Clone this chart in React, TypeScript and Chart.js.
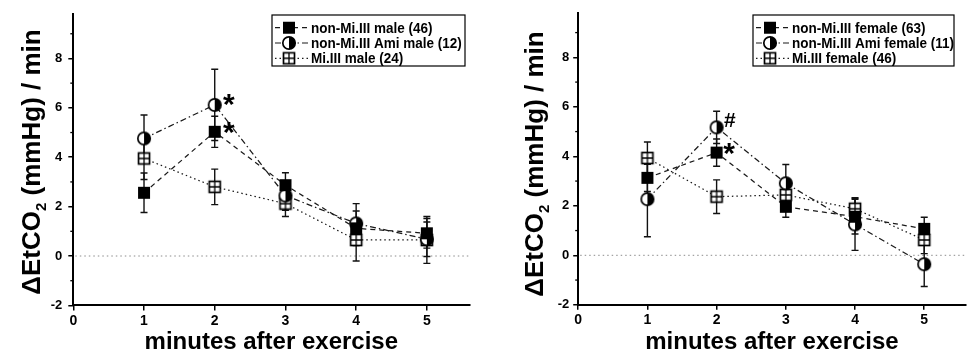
import { useEffect, useRef } from 'react';
import { Chart, registerables } from 'chart.js';

Chart.register(...registerables);

const FONT = '"Liberation Sans", Arial, Helvetica, sans-serif';

// ---------- data ----------
const minutes = [1, 2, 3, 4, 5];
const xTickValues = [0, 1, 2, 3, 4, 5];
const yTickValues = [-2, 0, 2, 4, 6, 8];
const yMinorValues = [-1, 1, 3, 5, 7, 9];

const xTitle = 'minutes after exercise';
const yTitleMain = 'ΔEtCO';
const yTitleSub = '2';
const yTitleRest = ' (mmHg) / min';

// male panel
const maleLabels = ['non-Mi.III male (46)', 'non-Mi.III Ami male (12)', 'Mi.III male (24)'];
const maleNonMi = [2.56, 5.03, 2.87, 1.12, 0.92];
const maleNonMiErr = [0.8, 0.63, 0.5, 0.7, 0.6];
const maleAmi = [4.76, 6.12, 2.45, 1.32, 0.68];
const maleAmiErr = [0.95, 1.44, 0.6, 0.8, 0.7];
const maleMi = [3.95, 2.8, 2.12, 0.65, 0.65];
const maleMiErr = [0.85, 0.72, 0.52, 0.85, 0.95];
const maleMarkText = ['*', '*'];
const maleMarkX = [2.2, 2.2];
const maleMarkY = [6.44, 5.3];

// female panel
const femaleLabels = ['non-Mi.III female (63)', 'non-Mi.III Ami female (11)', 'Mi.III female (46)'];
const femaleNonMi = [3.13, 4.15, 1.96, 1.56, 1.07];
const femaleNonMiErr = [0.55, 0.55, 0.42, 0.7, 0.47];
const femaleAmi = [2.27, 5.17, 2.91, 1.25, -0.36];
const femaleAmiErr = [1.52, 0.65, 0.76, 1.05, 0.9];
const femaleMi = [3.93, 2.37, 2.44, 1.88, 0.62];
const femaleMiErr = [0.65, 0.68, 0.5, 0.45, 0.55];
const femaleMarkText = ['#', '*'];
const femaleMarkX = [2.19, 2.18];
const femaleMarkY = [5.5, 4.43];

// ---------- styles ----------
type Kind = 'filled' | 'half' | 'cross';
const kinds: Kind[] = ['filled', 'half', 'cross'];
const dashes = [[5, 4], [6, 3, 1.5, 3], [1.5, 3]];

type PanelCfg = {
  width: number;
  axisLeft: number;
  padTop: number;
  padRight: number;
  plotBottom: number;
  tickPad: number;
  yTitleBaseX: number;
  yTitleCenterY: number;
  xTitleBaseY: number;
  legend: { x: number; y: number; w: number; h: number };
  labels: string[];
  values: number[][];
  errors: number[][];
  markText: string[];
  markX: number[];
  markY: number[];
};

const malePanel: PanelCfg = {
  width: 486,
  axisLeft: 73.3,
  padTop: 14,
  padRight: 16.7,
  plotBottom: 305.4,
  tickPad: 6,
  yTitleBaseX: 40,
  yTitleCenterY: 162,
  xTitleBaseY: 348.5,
  legend: { x: 272, y: 15, w: 193, h: 51 },
  labels: maleLabels,
  values: [maleNonMi, maleAmi, maleMi],
  errors: [maleNonMiErr, maleAmiErr, maleMiErr],
  markText: maleMarkText,
  markX: maleMarkX,
  markY: maleMarkY,
};

const femalePanel: PanelCfg = {
  width: 487,
  axisLeft: 92.2,
  padTop: 12.8,
  padRight: 0,
  plotBottom: 304.8,
  tickPad: 4,
  yTitleBaseX: 57,
  yTitleCenterY: 164,
  xTitleBaseY: 349,
  legend: { x: 267, y: 15, w: 201, h: 51 },
  labels: femaleLabels,
  values: [femaleNonMi, femaleAmi, femaleMi],
  errors: [femaleNonMiErr, femaleAmiErr, femaleMiErr],
  markText: femaleMarkText,
  markX: femaleMarkX,
  markY: femaleMarkY,
};

function makeMarker(kind: Kind): HTMLCanvasElement {
  const s = 16;
  const c = document.createElement('canvas');
  c.width = s;
  c.height = s;
  const g = c.getContext('2d') as CanvasRenderingContext2D;
  const m = s / 2;
  if (kind === 'filled') {
    g.fillStyle = '#000';
    g.fillRect(m - 6, m - 6, 12, 12);
  } else if (kind === 'half') {
    const r = 6.2;
    g.beginPath();
    g.arc(m, m, r, 0, Math.PI * 2);
    g.fillStyle = '#fff';
    g.fill();
    g.beginPath();
    g.arc(m, m, r, -Math.PI / 2, Math.PI / 2);
    g.closePath();
    g.fillStyle = '#000';
    g.fill();
    g.beginPath();
    g.arc(m, m, r, 0, Math.PI * 2);
    g.lineWidth = 1.7;
    g.strokeStyle = '#000';
    g.stroke();
  } else {
    g.fillStyle = '#fff';
    g.fillRect(m - 5.5, m - 5.5, 11, 11);
    g.strokeStyle = '#000';
    g.lineWidth = 1.7;
    g.strokeRect(m - 5.5, m - 5.5, 11, 11);
    g.beginPath();
    g.moveTo(m, m - 5.5);
    g.lineTo(m, m + 5.5);
    g.moveTo(m - 5.5, m);
    g.lineTo(m + 5.5, m);
    g.lineWidth = 1.3;
    g.stroke();
  }
  return c;
}

function decor(p: PanelCfg, markers: Record<Kind, HTMLCanvasElement>) {
  return {
    id: 'decor',
    beforeDatasetsDraw(chart: any) {
      const { ctx, chartArea: a } = chart;
      const xs = chart.scales.x;
      const ys = chart.scales.y;
      ctx.save();
      const y0 = ys.getPixelForValue(0);
      ctx.strokeStyle = '#8c8c8c';
      ctx.lineWidth = 1;
      ctx.setLineDash([1.5, 3]);
      ctx.beginPath();
      ctx.moveTo(a.left + 2, y0);
      ctx.lineTo(a.right, y0);
      ctx.stroke();
      ctx.setLineDash([]);
      ctx.strokeStyle = '#111';
      ctx.lineWidth = 1.4;
      chart.data.datasets.forEach((ds: any) => {
        ds.data.forEach((pt: any, i: number) => {
          const e = ds.err[i];
          const px = xs.getPixelForValue(pt.x);
          const top = ys.getPixelForValue(pt.y + e);
          const bot = ys.getPixelForValue(pt.y - e);
          ctx.beginPath();
          ctx.moveTo(px, top);
          ctx.lineTo(px, bot);
          ctx.moveTo(px - 3.5, top);
          ctx.lineTo(px + 3.5, top);
          ctx.moveTo(px - 3.5, bot);
          ctx.lineTo(px + 3.5, bot);
          ctx.stroke();
        });
      });
      ctx.restore();
    },
    afterDraw(chart: any) {
      const { ctx, chartArea: a } = chart;
      const xs = chart.scales.x;
      const ys = chart.scales.y;
      ctx.save();
      // minor y ticks
      ctx.strokeStyle = '#000';
      ctx.lineWidth = 1.3;
      yMinorValues.forEach((v) => {
        const py = ys.getPixelForValue(v);
        ctx.beginPath();
        ctx.moveTo(a.left - 3, py);
        ctx.lineTo(a.left, py);
        ctx.stroke();
      });

      // y title
      ctx.fillStyle = '#000';
      ctx.save();
      ctx.translate(p.yTitleBaseX, p.yTitleCenterY);
      ctx.rotate(-Math.PI / 2);
      ctx.textBaseline = 'alphabetic';
      ctx.textAlign = 'left';
      const big = `bold 26px ${FONT}`;
      const small = `bold 15px ${FONT}`;
      const parts: [string, string, number][] = [
        [yTitleMain, big, 0],
        [yTitleSub, small, 6],
        [yTitleRest, big, 0],
      ];
      let total = 0;
      const widths = parts.map(([t, f]) => {
        ctx.font = f;
        const w = ctx.measureText(t).width;
        total += w;
        return w;
      });
      let u = -total / 2;
      parts.forEach(([t, f, shift], i) => {
        ctx.font = f;
        ctx.fillText(t, u, shift);
        u += widths[i];
      });
      ctx.restore();

      // x title
      ctx.font = `bold 24px ${FONT}`;
      ctx.textAlign = 'center';
      ctx.textBaseline = 'alphabetic';
      ctx.fillText(xTitle, (a.left + a.right) / 2, p.xTitleBaseY);

      // significance marks
      p.markText.forEach((t, i) => {
        const px = xs.getPixelForValue(p.markX[i]);
        const py = ys.getPixelForValue(p.markY[i]);
        if (t === '*') {
          ctx.font = `bold 30px ${FONT}`;
          ctx.fillText(t, px, py + 0.57 * 30);
        } else {
          ctx.font = `bold 21px ${FONT}`;
          ctx.fillText(t, px, py + 0.36 * 21);
        }
      });

      // legend
      const L = p.legend;
      ctx.fillStyle = '#fff';
      ctx.fillRect(L.x, L.y, L.w, L.h);
      ctx.strokeStyle = '#000';
      ctx.lineWidth = 1.2;
      ctx.strokeRect(L.x, L.y, L.w, L.h);
      const rowY = [L.y + 12.7, L.y + 28, L.y + 43.3];
      chart.data.datasets.forEach((ds: any, i: number) => {
        const ry = rowY[i];
        ctx.strokeStyle = '#1a1a1a';
        ctx.lineWidth = 1.2;
        ctx.setLineDash(dashes[i]);
        ctx.beginPath();
        ctx.moveTo(L.x + 3, ry);
        ctx.lineTo(L.x + 36, ry);
        ctx.stroke();
        ctx.setLineDash([]);
        const mk = markers[kinds[i]];
        ctx.drawImage(mk, L.x + 17 - mk.width / 2, ry - mk.height / 2);
        ctx.save();
        ctx.translate(L.x + 39, ry);
        ctx.scale(0.9, 1);
        ctx.fillStyle = '#000';
        ctx.font = `bold 15px ${FONT}`;
        ctx.textAlign = 'left';
        ctx.textBaseline = 'middle';
        ctx.fillText(ds.label, 0, 1);
        ctx.restore();
      });
      ctx.restore();
    },
  };
}

function Panel({ panel }: { panel: PanelCfg }) {
  const ref = useRef<HTMLCanvasElement>(null);
  useEffect(() => {
    const canvas = ref.current as HTMLCanvasElement;
    const markers: Record<Kind, HTMLCanvasElement> = {
      filled: makeMarker('filled'),
      half: makeMarker('half'),
      cross: makeMarker('cross'),
    };
    const datasets = panel.labels.map((label, k) => ({
      label,
      data: minutes.map((m, i) => ({ x: m, y: panel.values[k][i] })),
      err: panel.errors[k],
      borderColor: '#1a1a1a',
      borderWidth: 1.25,
      borderDash: dashes[k],
      pointStyle: markers[kinds[k]],
      pointRadius: 6,
      pointHoverRadius: 6,
      fill: false,
      tension: 0,
      clip: false,
    }));
    const tickFontY = { family: FONT, size: 13, weight: 'bold' as const };
    const tickFontX = { family: FONT, size: 14, weight: 'bold' as const };
    const chart = new Chart(canvas, {
      type: 'line',
      data: { datasets } as any,
      options: {
        responsive: false,
        animation: false,
        events: [],
        layout: { padding: { left: 0, top: panel.padTop, right: panel.padRight, bottom: 0 } },
        plugins: { legend: { display: false }, tooltip: { enabled: false } },
        scales: {
          x: {
            type: 'linear',
            min: 0,
            max: 5.6,
            afterBuildTicks: (s: any) => {
              s.ticks = xTickValues.map((v) => ({ value: v }));
            },
            afterFit: (s: any) => {
              s.height = 352 - panel.plotBottom;
            },
            grid: { display: true, drawOnChartArea: false, drawTicks: true, tickLength: 5, color: '#000', lineWidth: 1.5 },
            border: { display: true, color: '#000', width: 2 },
            ticks: { font: tickFontX, color: '#000', padding: 2, maxRotation: 0, autoSkip: false },
          },
          y: {
            type: 'linear',
            min: -2,
            max: 9.8,
            afterBuildTicks: (s: any) => {
              s.ticks = yTickValues.map((v) => ({ value: v }));
            },
            afterFit: (s: any) => {
              s.width = panel.axisLeft;
            },
            grid: { display: true, drawOnChartArea: false, drawTicks: true, tickLength: 5, color: '#000', lineWidth: 1.5 },
            border: { display: true, color: '#000', width: 2 },
            ticks: { font: tickFontY, color: '#000', padding: panel.tickPad, autoSkip: false },
          },
        },
      } as any,
      plugins: [decor(panel, markers)],
    });
    return () => chart.destroy();
  }, [panel]);
  return (
    <canvas
      ref={ref}
      width={panel.width}
      height={352}
      style={{ display: 'block', width: panel.width, height: 352 }}
    />
  );
}

export default function App() {
  return (
    <div
      style={{
        position: 'fixed',
        left: 0,
        top: 0,
        width: 973,
        height: 352,
        display: 'flex',
        background: '#fff',
      }}
    >
      <Panel panel={malePanel} />
      <Panel panel={femalePanel} />
    </div>
  );
}
